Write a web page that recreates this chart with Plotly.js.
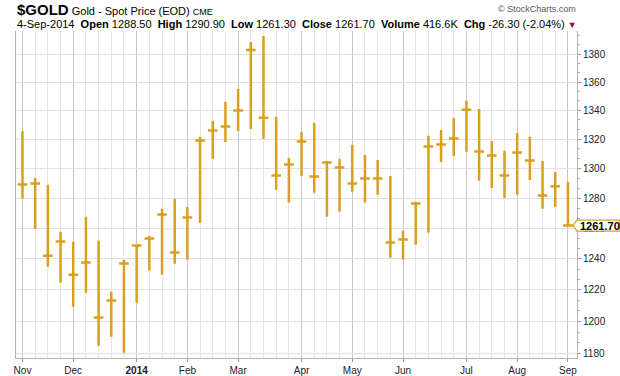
<!DOCTYPE html>
<html><head><meta charset="utf-8">
<script src="https://cdn.plot.ly/plotly-3.0.1.min.js"></script>
<style>html,body{margin:0;padding:0;background:#fff}#chart{width:620px;height:376px}</style>
</head><body><div id="chart"></div>
<script>
// ---- data ----
const weeks = ['2013-11-04','2013-11-11','2013-11-18','2013-11-25','2013-12-02','2013-12-09','2013-12-16','2013-12-23','2013-12-30',
  '2014-01-06','2014-01-13','2014-01-20','2014-01-27','2014-02-03','2014-02-10','2014-02-17','2014-02-24',
  '2014-03-03','2014-03-10','2014-03-17','2014-03-24','2014-03-31','2014-04-07','2014-04-14','2014-04-21','2014-04-28',
  '2014-05-05','2014-05-12','2014-05-19','2014-05-26','2014-06-02','2014-06-09','2014-06-16','2014-06-23','2014-06-30',
  '2014-07-07','2014-07-14','2014-07-21','2014-07-28','2014-08-04','2014-08-11','2014-08-18','2014-08-25','2014-09-01'];
const high = [1325.7,1293.6,1288.9,1257.6,1251.1,1267.5,1251.7,1218.8,1239.4,1249.1,1255.0,1272.8,1279.5,1274.1,1321.6,1332.7,1346.0,1355.1,1388.8,1393.2,1335.5,1307.2,1325.0,1331.3,1305.1,1306.5,1316.1,1309.2,1305.8,1294.9,1258.3,1277.5,1322.3,1326.4,1334.8,1346.7,1341.0,1318.8,1312.0,1324.3,1321.6,1305.1,1297.6,1290.9];
const low = [1279.5,1259.6,1234.8,1224.6,1209.3,1218.2,1184.9,1190.5,1180.6,1211.8,1232.3,1229.7,1236.8,1239.4,1263.5,1306.5,1318.1,1325.7,1327.1,1320.2,1285.5,1276.8,1294.9,1283.5,1267.5,1270.8,1284.2,1276.8,1282.2,1240.7,1239.4,1249.1,1257.0,1304.4,1308.5,1311.3,1291.6,1286.8,1280.1,1282.2,1292.2,1272.8,1274.1,1261.3];
const close = [1289.1,1289.8,1242.0,1251.3,1229.7,1237.6,1202.6,1213.3,1237.0,1248.7,1253.3,1269.1,1244.1,1267.1,1319.1,1326.0,1328.7,1339.9,1383.0,1334.8,1295.2,1302.6,1318.4,1294.5,1304.0,1300.6,1289.8,1293.1,1293.1,1250.6,1252.6,1276.4,1314.9,1316.3,1320.4,1340.4,1311.5,1308.8,1295.2,1310.8,1305.4,1281.7,1288.0,1261.7];

const monthTickDates = ['2013-11-04','2013-12-02','2014-01-06','2014-02-03','2014-03-03','2014-04-07','2014-05-05','2014-06-02','2014-07-07','2014-08-04','2014-09-01'];
const monthTickLabels = ['Nov','Dec','<b>2014</b>','Feb','Mar','Apr','May','Jun','Jul','Aug','Sep'];
const priceTicks = [1180,1200,1220,1240,1260,1280,1300,1320,1340,1360,1380];

const symbol = '$GOLD';
const seriesTitle = 'Gold - Spot Price (EOD)';
const exchange = 'CME';
const dateLabel = '4-Sep-2014';
const headerLabels = ['Open','High','Low','Close','Volume','Chg'];
const headerValues = ['1288.50','1290.90','1261.30','1261.70','416.6K','-26.30 (-2.04%)'];
const lastPriceText = '1261.70';
const lastPrice = close[close.length-1];

// ---- styling ----
const GOLD = '#D9A020';
const FONT = 'Liberation Sans, Arial, sans-serif';
const NB = '\u00a0';

const minorPriceTicks = [];
for (let i = 0; i < priceTicks.length - 1; i++) {
  const step = (priceTicks[i+1] - priceTicks[i]) / 3;
  minorPriceTicks.push(priceTicks[i] + step, priceTicks[i] + 2*step);
}
minorPriceTicks.push(priceTicks[priceTicks.length-1] + (priceTicks[1]-priceTicks[0])/3);
minorPriceTicks.push(priceTicks[priceTicks.length-1] + 2*(priceTicks[1]-priceTicks[0])/3);

const yRange = [3.07091, 3.14513];
const yPaper = v => (Math.log10(v) - yRange[0]) / (yRange[1] - yRange[0]);

const trace = {
  type: 'ohlc',
  x: weeks,
  open: close,
  high: high,
  low: low,
  close: close,
  tickwidth: 0.38,
  line: {width: 2.5},
  increasing: {line: {color: GOLD, width: 2.5}},
  decreasing: {line: {color: GOLD, width: 2.5}},
  hoverinfo: 'skip',
  showlegend: false
};

let line2 = dateLabel;
headerLabels.forEach((lab, i) => {
  line2 += NB + NB + '<b>' + lab + '</b>' + NB + headerValues[i];
});
line2 += NB + '<span style="color:#A0102A;font-size:9px">\u25BC</span>';

const layout = {
  width: 620, height: 376,
  margin: {l: 16, r: 43, t: 31, b: 18},
  paper_bgcolor: '#fff', plot_bgcolor: '#fff',
  font: {family: FONT, size: 10, color: '#222'},
  showlegend: false,
  xaxis: {
    type: 'date',
    range: ['2013-10-31 10:00', '2014-09-06 00:15'],
    tickmode: 'array', tickvals: monthTickDates, ticktext: monthTickLabels,
    showgrid: true, gridcolor: '#c6c6c6', gridwidth: 1,
    ticks: 'outside', ticklen: 3, tickcolor: '#999',
    showline: true, linecolor: '#b4b4b4', linewidth: 1,
    zeroline: false,
    tickfont: {family: FONT, size: 10, color: '#222'},
    rangeslider: {visible: false},
    minor: {tickmode: 'array', tickvals: weeks, showgrid: true, gridcolor: '#e6e6e6', gridwidth: 1, ticks: ''},
    fixedrange: true
  },
  yaxis: {
    type: 'log', side: 'right',
    range: yRange,
    tickmode: 'array', tickvals: priceTicks, ticktext: priceTicks.map(String),
    showgrid: true, gridcolor: '#e0e0e0', gridwidth: 1,
    showline: true, mirror: true, linecolor: '#b4b4b4', linewidth: 1,
    ticks: 'outside', ticklen: 3, tickcolor: '#999',
    minor: {tickmode: 'array', tickvals: minorPriceTicks, ticks: 'outside', ticklen: 2, tickcolor: '#aaa', showgrid: false},
    zeroline: false,
    tickfont: {family: FONT, size: 10, color: '#222'},
    fixedrange: true
  },
  shapes: [{
    type: 'path', layer: 'above',
    xref: 'paper', xsizemode: 'pixel', xanchor: 1,
    yref: 'paper', ysizemode: 'pixel', yanchor: yPaper(lastPrice),
    path: 'M-4,0 L0,5.5 L42.5,5.5 L42.5,-5.5 L0,-5.5 Z',
    line: {color: GOLD, width: 1.2}, fillcolor: '#fff'
  }],
  annotations: [
    {xref: 'paper', yref: 'paper', x: 0, y: 1.066, xanchor: 'left', yanchor: 'middle', xshift: -1,
     showarrow: false, align: 'left',
     text: '<span style="font-size:15px"><b>' + symbol + '</b></span>' + NB + seriesTitle + NB + '<span style="font-size:9px">' + exchange + '</span>',
     font: {family: FONT, size: 11, color: '#000'}},
    {xref: 'paper', yref: 'paper', x: 1, y: 1.066, xanchor: 'right', yanchor: 'middle', xshift: 1,
     showarrow: false, text: '\u00a9 StockCharts.com',
     font: {family: FONT, size: 9, color: '#555'}},
    {xref: 'paper', yref: 'paper', x: 0, y: 1.0222, xanchor: 'left', yanchor: 'middle', xshift: -1,
     showarrow: false, align: 'left', text: line2,
     font: {family: FONT, size: 11, color: '#000'}},
    {xref: 'paper', yref: 'y', x: 1, y: Math.log10(lastPrice), xanchor: 'left', yanchor: 'middle', xshift: 1,
     showarrow: false, text: '<b>' + lastPriceText + '</b>',
     font: {family: FONT, size: 11, color: '#000'}}
  ]
};

Plotly.newPlot('chart', [trace], layout, {displayModeBar: false, staticPlot: true});
</script>
</body></html>
